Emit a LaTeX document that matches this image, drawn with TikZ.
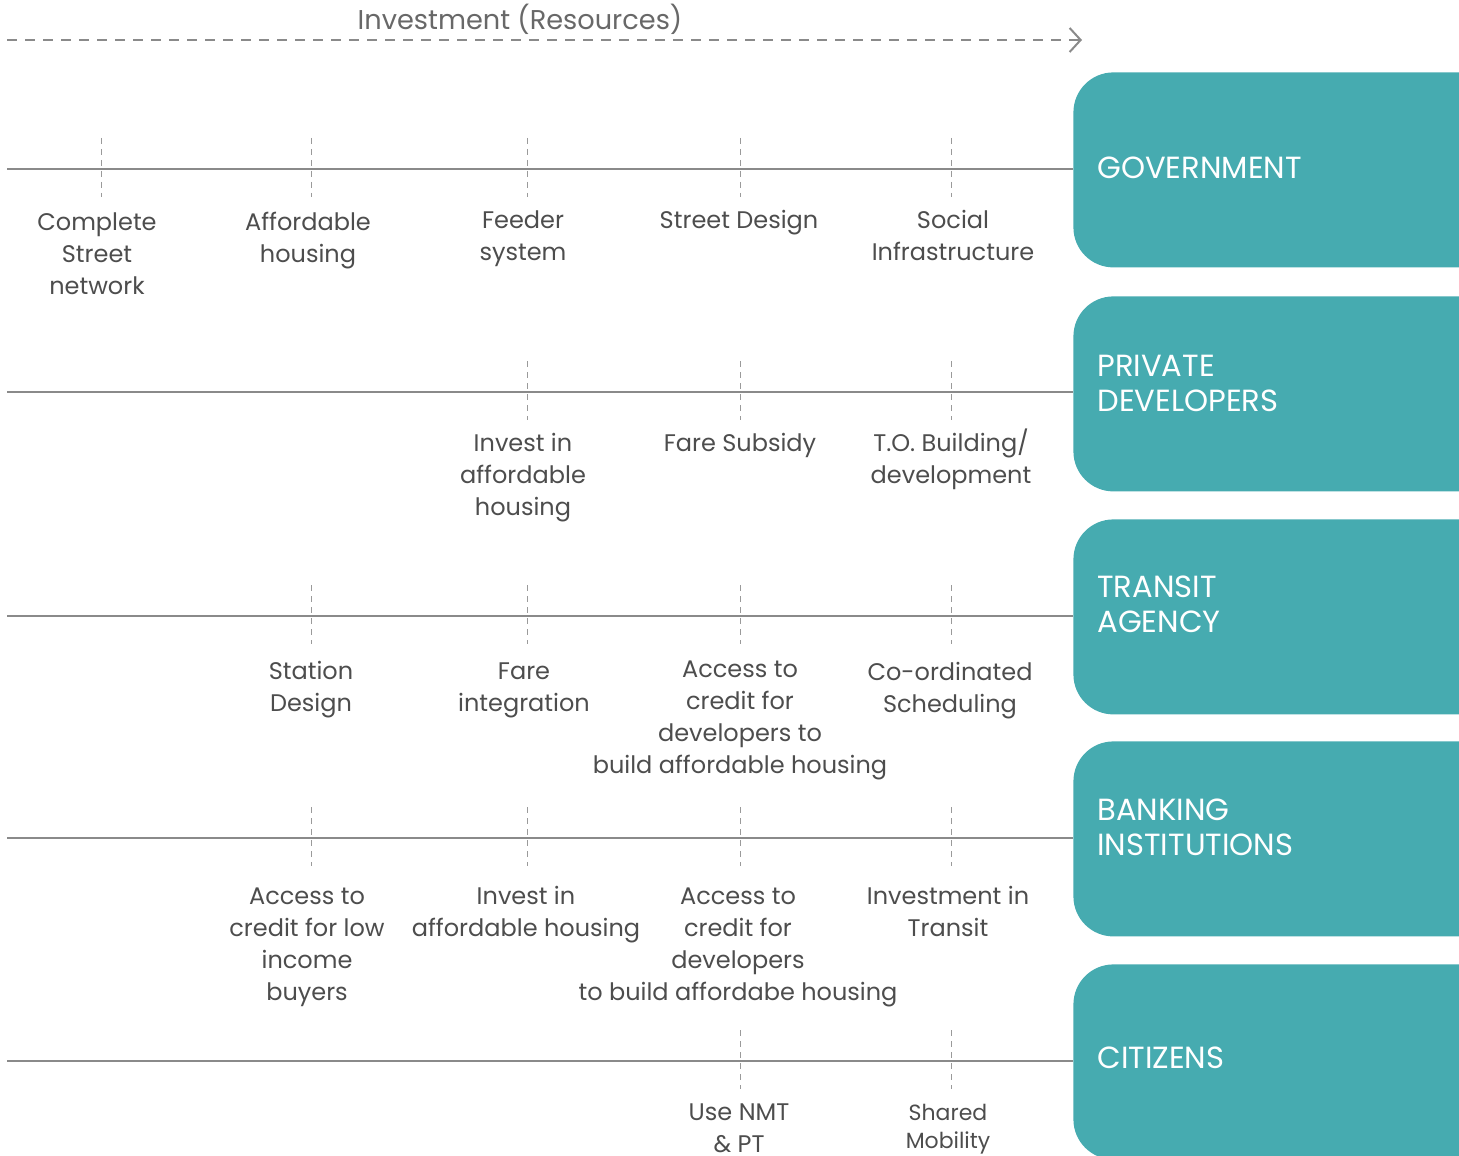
\documentclass[tikz,border=0pt]{standalone}
\usepackage{fontspec}
\setmainfont{Poppins}
\usetikzlibrary{arrows.meta}
\definecolor{boxteal}{HTML}{46ABB0}
\definecolor{labelgray}{HTML}{4D4D4D}
\definecolor{linegray}{HTML}{8A8A8A}
\definecolor{tickgray}{HTML}{9A9A9A}
\begin{document}
\begin{tikzpicture}[x=0.5pt,y=-0.5pt,
  lbl/.style={font=\fontsize{12}{16}\selectfont, text=labelgray, align=center, anchor=base, inner sep=0pt},
  small/.style={font=\fontsize{11}{14}\selectfont},
  tickline/.style={draw=tickgray, dash pattern=on 3pt off 2.5pt, line width=0.5pt},
  rowline/.style={draw=linegray, line width=0.6pt},
  actor/.style={fill=boxteal, rounded corners=20pt, minimum width=230pt, minimum height=97.5pt, anchor=north west, inner sep=0pt},
  actortext/.style={font=\fontsize{15.3}{17.5}\selectfont, text=white, anchor=base west, align=left, inner sep=0pt},
  titletext/.style={font=\fontsize{13.6}{16}\selectfont, text=labelgray!85, anchor=base, inner sep=0pt}]
\useasboundingbox (0,0) rectangle (1459,1155);
\clip (0,0) rectangle (1459,1155);

% top arrow
\node[titletext] (title) at (520,30) {Investment (Resources)};
\coordinate (a0) at (7,40);
\coordinate (a1) at (1082,40);
\draw[draw=linegray, line width=0.8pt, dash pattern=on 5pt off 4pt, -{Straight Barb[length=5.5pt,width=12pt,line width=1pt]}] (a0) -- (a1);

% actor boxes
\node[actor] (gov) at (1073,72) {};
\node[actor] (priv) at (1073,296) {};
\node[actor] (trans) at (1073,519) {};
\node[actor] (bank) at (1073,741) {};
\node[actor] (cit) at (1073,964) {};

% (base anchor of multi-line text = last line's baseline)
\node[actortext] (govt) at (1097,178) {GOVERNMENT};
\node[actortext] (privt) at (1097,411) {PRIVATE\\DEVELOPERS};
\node[actortext] (transt) at (1097,632) {TRANSIT\\AGENCY};
\node[actortext] (bankt) at (1097,855) {BANKING\\INSTITUTIONS};
\node[actortext] (citt) at (1097,1068) {CITIZENS};

% row lines
\coordinate (r1) at (7,169);
\coordinate (r2) at (7,392);
\coordinate (r3) at (7,616);
\coordinate (r4) at (7,838);
\coordinate (r5) at (7,1061);
\draw[rowline] (r1) -- (r1 -| gov.west);
\draw[rowline] (r2) -- (r2 -| priv.west);
\draw[rowline] (r3) -- (r3 -| trans.west);
\draw[rowline] (r4) -- (r4 -| bank.west);
\draw[rowline] (r5) -- (r5 -| cit.west);

% ticks
\foreach \x in {101,311,527,740,951} \draw[tickline] (\x,138) -- (\x,197);
\foreach \x in {527,740,951} \draw[tickline] (\x,361) -- (\x,420);
\foreach \x in {311,527,740,951} \draw[tickline] (\x,585) -- (\x,644);
\foreach \x in {311,527,740,951} \draw[tickline] (\x,807) -- (\x,866);
\foreach \x in {740,951} \draw[tickline] (\x,1030) -- (\x,1089);

% labels row 1
\node[lbl] (l11) at (97,294) {Complete\\Street\\network};
\node[lbl] (l12) at (308,262) {Affordable\\housing};
\node[lbl] (l13) at (523,260) {Feeder\\system};
\node[lbl] (l14) at (739,228) {Street Design};
\node[lbl] (l15) at (953,260) {Social\\Infrastructure};
% row 2
\node[lbl] (l21) at (523,515) {Invest in\\affordable\\housing};
\node[lbl] (l22) at (740,451) {Fare Subsidy};
\node[lbl] (l23) at (951,483) {T.O. Building/\\development};
% row 3
\node[lbl] (l31) at (311,711) {Station\\Design};
\node[lbl] (l32) at (524,711) {Fare\\integration};
\node[lbl] (l33) at (740,773) {Access to\\credit for\\developers to\\build affordable housing};
\node[lbl] (l34) at (950,712) {Co-ordinated\\Scheduling};
% row 4
\node[lbl] (l41) at (307,1000) {Access to\\credit for low\\income\\buyers};
\node[lbl] (l42) at (526,936) {Invest in\\affordable housing};
\node[lbl] (l43) at (738,1000) {Access to\\credit for\\developers\\to build affordabe housing};
\node[lbl] (l44) at (948,936) {Investment in\\Transit};
% row 5
\node[lbl] (l51) at (739,1152) {Use NMT\\\& PT};
\node[lbl, small] (l52) at (948,1148) {Shared\\Mobility};
\end{tikzpicture}
\end{document}
